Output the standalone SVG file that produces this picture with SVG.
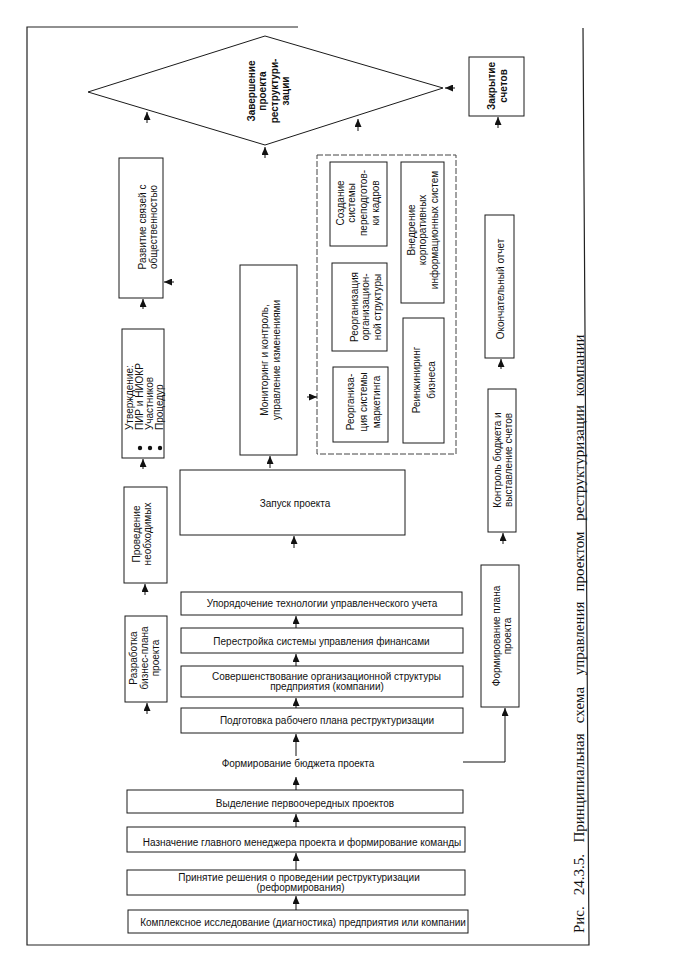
<svg xmlns="http://www.w3.org/2000/svg" width="684" height="960" viewBox="0 0 684 960">
<defs>
<style>
.bg{fill:#fff}
.frame{fill:none;stroke:#222;stroke-width:1.2}
.box{fill:none;stroke:#1a1a1a;stroke-width:1}
.dash{fill:none;stroke:#444;stroke-width:1;stroke-dasharray:6 2}
.t{font-family:"Liberation Sans",Arial,sans-serif;font-size:10px;fill:#111}
.b{font-weight:bold}
.cap{font-family:"Liberation Serif","Times New Roman",serif;font-size:15px;fill:#111}
.conn line,.conn polyline{fill:none;stroke:#111;stroke-width:1}
</style>
<marker id="ah" markerUnits="userSpaceOnUse" markerWidth="8" markerHeight="7" refX="8" refY="3.5" orient="auto">
<path d="M0,0 L8,3.5 L0,7 z" fill="#111"/>
</marker>
</defs>
<rect class="bg" x="0" y="0" width="684" height="960"/>
<path class="frame" d="M298,27 H27 V945 H589 L583,28"/>

<g id="zavershenie">
<polygon class="box" points="88,92 265,36 443,88 265,145"/>
<g transform="translate(268,91) rotate(-90)"><text class="t b" font-size="11" text-anchor="middle"><tspan x="0" y="-13">Завершение</tspan><tspan x="0" y="-1.7">проекта</tspan><tspan x="0" y="9.6">реструктури-</tspan><tspan x="0" y="20.9">зации</tspan></text></g>
</g>

<g id="zakrytie">
<rect class="box" x="469" y="57" width="55" height="59"/>
<g transform="translate(497,86) rotate(-90)"><text class="t b" text-anchor="middle"><tspan x="0" y="-2">Закрытие</tspan><tspan x="0" y="9.5">счетов</tspan></text></g>
</g>

<g id="razvitie">
<rect class="box" x="119" y="158" width="44" height="140"/>
<g transform="translate(147.5,227) rotate(-90)"><text class="t" font-size="10.5" text-anchor="middle"><tspan x="0" y="-1.8">Развитие связей с</tspan><tspan x="0" y="9.2">общественностью</tspan></text></g>
</g>

<g id="utverzhdenie">
<rect class="box" x="122" y="329" width="42" height="129"/>
<g transform="translate(145,430) rotate(-90)"><text class="t" font-size="9.5"><tspan x="0" y="-11.7">Утверждение:</tspan><tspan x="0" y="-1.7">ПИР и НИОКР</tspan><tspan x="0" y="8.3">Участников</tspan><tspan x="0" y="18.3">Процедур</tspan></text></g>
<circle cx="140" cy="448" r="2.2" fill="#111"/>
<circle cx="150" cy="448" r="2.2" fill="#111"/>
<circle cx="160" cy="448" r="2.2" fill="#111"/>
</g>

<g id="provedenie">
<rect class="box" x="124" y="487" width="43" height="96"/>
<g transform="translate(141.75,534) rotate(-90)"><text class="t" font-size="10.5" text-anchor="middle"><tspan x="0" y="-2">Проведение</tspan><tspan x="0" y="9.5">необходимых</tspan></text></g>
</g>

<g id="razrabotka">
<rect class="box" x="125" y="616" width="42" height="86"/>
<g transform="translate(144,658) rotate(-90)"><text class="t" font-size="10.5" text-anchor="middle"><tspan x="0" y="-7.5">Разработка</tspan><tspan x="0" y="3.7">бизнес-плана</tspan><tspan x="0" y="14.9">проекта</tspan></text></g>
</g>

<g id="monitoring">
<rect class="box" x="240" y="265" width="57" height="190"/>
<g transform="translate(269.5,360) rotate(-90)"><text class="t" font-size="12" text-anchor="middle"><tspan x="0" y="-1.3">Мониторинг и контроль,</tspan><tspan x="0" y="10">управление изменениями</tspan></text></g>
</g>

<g id="preobrazovaniya">
<rect class="dash" x="317" y="155" width="139" height="299"/>
</g>

<g id="sozdanie">
<rect class="box" x="330" y="162" width="57" height="84"/>
<g transform="translate(357.5,203) rotate(-90)"><text class="t" font-size="10.5" text-anchor="middle"><tspan x="0" y="-13.8">Создание</tspan><tspan x="0" y="-2.1">системы</tspan><tspan x="0" y="9.6">переподготов-</tspan><tspan x="0" y="21.3">ки кадров</tspan></text></g>
</g>

<g id="vnedrenie">
<rect class="box" x="401" y="162" width="43" height="141"/>
<g transform="translate(422.5,230) rotate(-90)"><text class="t" font-size="10.5" text-anchor="middle"><tspan x="0" y="-8">Внедрение</tspan><tspan x="0" y="3.7">корпоративных</tspan><tspan x="0" y="15.4">информационных систем</tspan></text></g>
</g>

<g id="reorg_struktury">
<rect class="box" x="332" y="263" width="55" height="88"/>
<g transform="translate(365.5,307) rotate(-90)"><text class="t" font-size="10.5" text-anchor="middle"><tspan x="0" y="-8">Реорганизация</tspan><tspan x="0" y="3.7">организацион-</tspan><tspan x="0" y="15.4">ной структуры</tspan></text></g>
</g>

<g id="reorg_marketinga">
<rect class="box" x="333" y="367" width="55" height="75"/>
<g transform="translate(363.5,402) rotate(-90)"><text class="t" font-size="10.5" text-anchor="middle"><tspan x="0" y="-9.3">Реорганиза-</tspan><tspan x="0" y="3.7">ция системы</tspan><tspan x="0" y="16.7">маркетинга</tspan></text></g>
</g>

<g id="reinzhiniring">
<rect class="box" x="403" y="318" width="41" height="125"/>
<g transform="translate(423.5,380) rotate(-90)"><text class="t" font-size="10.5" text-anchor="middle"><tspan x="0" y="-3.8">Реинжиниринг</tspan><tspan x="0" y="11.2">бизнеса</tspan></text></g>
</g>

<g id="zapusk">
<rect class="box" x="180" y="470" width="225" height="65"/>
<text class="t" font-size="10.5" x="295" y="507" text-anchor="middle">Запуск проекта</text>
</g>

<g id="uporyadochenie">
<rect class="box" x="181" y="592" width="281" height="23"/>
<text class="t" x="322" y="607" text-anchor="middle">Упорядочение технологии управленческого учета</text>
</g>

<g id="perestroika">
<rect class="box" x="181" y="628" width="282" height="25"/>
<text class="t" x="321.5" y="644.5" text-anchor="middle">Перестройка системы управления финансами</text>
</g>

<g id="sovershenstvovanie">
<rect class="box" x="181" y="666" width="282" height="31"/>
<text class="t" text-anchor="middle"><tspan x="326.5" y="679.5">Совершенствование организационной структуры</tspan><tspan x="327" y="689.5">предприятия (компании)</tspan></text>
</g>

<g id="podgotovka">
<rect class="box" x="181" y="708" width="282" height="25"/>
<text class="t" x="327" y="723.5" text-anchor="middle">Подготовка рабочего плана реструктуризации</text>
</g>

<g id="byudzhet">
<text class="t" x="298" y="766.5" text-anchor="middle">Формирование бюджета проекта</text>
</g>

<g id="vydelenie">
<rect class="box" x="127" y="790" width="336" height="23"/>
<text class="t" x="305" y="806.5" text-anchor="middle">Выделение первоочередных проектов</text>
</g>

<g id="naznachenie">
<rect class="box" x="127" y="827" width="338" height="25"/>
<text class="t" x="302" y="845.5" text-anchor="middle">Назначение главного менеджера проекта и формирование команды</text>
</g>

<g id="prinyatie">
<rect class="box" x="127" y="870" width="338" height="25"/>
<text class="t" text-anchor="middle"><tspan x="299" y="880.5">Принятие решения о проведении реструктуризации</tspan><tspan x="300.5" y="890.5">(реформирования)</tspan></text>
</g>

<g id="kompleksnoe">
<rect class="box" x="128" y="910" width="340" height="23"/>
<text class="t" x="303" y="926" text-anchor="middle">Комплексное исследование (диагностика) предприятия или компании</text>
</g>

<g id="okonchatelny">
<rect class="box" x="485" y="215" width="29" height="143"/>
<g transform="translate(500,289) rotate(-90)"><text class="t" font-size="10.5" text-anchor="middle" x="0" y="3.7">Окончательный отчет</text></g>
</g>

<g id="kontrol">
<rect class="box" x="488" y="389" width="28" height="143"/>
<g transform="translate(502.5,460) rotate(-90)"><text class="t" text-anchor="middle"><tspan x="0" y="-2">Контроль бюджета и</tspan><tspan x="0" y="9">выставление счетов</tspan></text></g>
</g>

<g id="formirovanie_plana">
<rect class="box" x="481" y="565" width="38" height="142"/>
<g transform="translate(502,636) rotate(-90)"><text class="t" text-anchor="middle"><tspan x="0" y="-2">Формирование плана</tspan><tspan x="0" y="9">проекта</tspan></text></g>
</g>

<g class="conn" id="connectors">
<line x1="147" y1="123" x2="147" y2="112" marker-end="url(#ah)"/>
<line x1="265" y1="158" x2="265" y2="147" marker-end="url(#ah)"/>
<line x1="358" y1="131" x2="358" y2="119" marker-end="url(#ah)"/>
<line x1="455" y1="88" x2="445" y2="88" marker-end="url(#ah)"/>
<line x1="498" y1="128" x2="498" y2="117" marker-end="url(#ah)"/>
<line x1="501" y1="369" x2="501" y2="359" marker-end="url(#ah)"/>
<line x1="503" y1="544" x2="503" y2="533" marker-end="url(#ah)"/>
<polyline points="463,762 505,762 505,708" marker-end="url(#ah)"/>
<line x1="296" y1="910" x2="296" y2="896" marker-end="url(#ah)"/>
<line x1="296" y1="870" x2="296" y2="853" marker-end="url(#ah)"/>
<line x1="296" y1="827" x2="296" y2="814" marker-end="url(#ah)"/>
<line x1="296" y1="790" x2="296" y2="777" marker-end="url(#ah)"/>
<line x1="296" y1="756" x2="296" y2="734" marker-end="url(#ah)"/>
<line x1="296" y1="708" x2="296" y2="698" marker-end="url(#ah)"/>
<line x1="296" y1="666" x2="296" y2="654" marker-end="url(#ah)"/>
<line x1="296" y1="628" x2="296" y2="616" marker-end="url(#ah)"/>
<line x1="294" y1="548" x2="294" y2="536" marker-end="url(#ah)"/>
<line x1="270" y1="468" x2="270" y2="456" marker-end="url(#ah)"/>
<line x1="147" y1="714" x2="147" y2="703" marker-end="url(#ah)"/>
<line x1="145" y1="595" x2="145" y2="584" marker-end="url(#ah)"/>
<line x1="143" y1="469" x2="143" y2="459" marker-end="url(#ah)"/>
<line x1="143" y1="309" x2="143" y2="299" marker-end="url(#ah)"/>
<line x1="174" y1="282" x2="164" y2="282" marker-end="url(#ah)"/>
<line x1="307" y1="397" x2="317" y2="397" marker-end="url(#ah)"/>
</g>

<g id="caption" transform="translate(584,933) rotate(-90)">
<text class="cap"><tspan x="0" y="0">Рис.</tspan><tspan x="37.7" y="0">24.3.5.</tspan><tspan x="90.4" y="0">Принципиальная</tspan><tspan x="209.8" y="0">схема</tspan><tspan x="257.8" y="0">управления</tspan><tspan x="341.5" y="0">проектом</tspan><tspan x="412.2" y="0">реструктуризации</tspan><tspan x="536.6" y="0">компании</tspan></text>
</g>
</svg>
